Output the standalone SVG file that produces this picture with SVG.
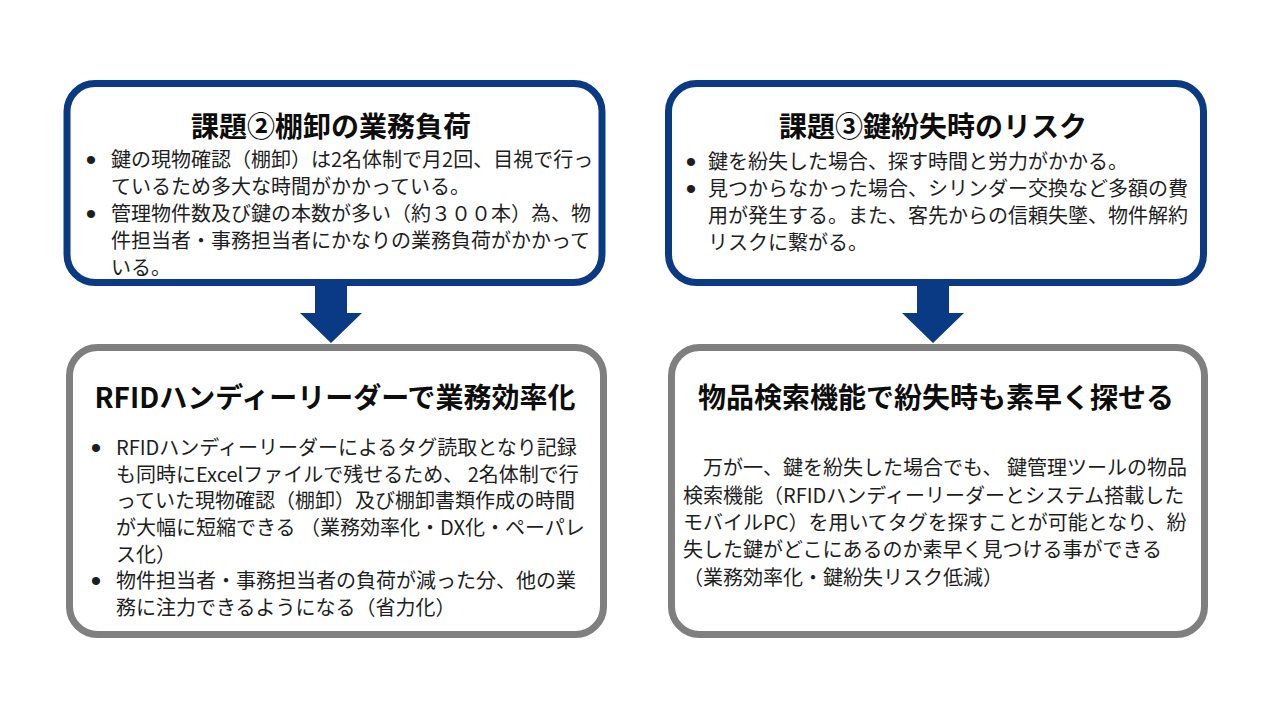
<svg xmlns="http://www.w3.org/2000/svg" width="1280" height="720" viewBox="0 0 1280 720">
<style>
.box{fill:#ffffff;stroke-width:7}
.navy{stroke:#0b3a84}
.grey{stroke:#7f7f7f}
.title{font-family:"Noto Sans CJK JP","Noto Sans",sans-serif;font-weight:700;font-size:28px;fill:#0d0d0d;text-anchor:middle}
.body{font-family:"Noto Sans CJK JP","Noto Sans",sans-serif;font-size:20px;fill:#1e1e1e}
.bullet{font-family:"Liberation Sans",Arial,sans-serif;font-size:30px;fill:#1e1e1e;text-anchor:middle}
.arrow{fill:#0b3a84}
</style>
<rect width="1280" height="720" fill="#ffffff"/>
<g id="connectors">
<polygon class="arrow" points="315,286 347,286 347,313 362,313 331,343 300,313 315,313"/>
<polygon class="arrow" points="917,286 949,286 949,313 964,313 933,343 902,313 917,313"/>
</g>
<g id="issue2">
<rect class="box navy" x="67" y="83.5" width="535" height="199" rx="28"/>
<text class="title" x="331" y="137">課題②棚卸の業務負荷</text>
<text class="bullet"><tspan x="91" y="170">•</tspan><tspan x="91" y="224">•</tspan></text>
<text class="body" xml:space="preserve"><tspan x="111" y="167">鍵の現物確認（棚卸）は2名体制で月2回、目視で行っ</tspan><tspan x="111" y="194">ているため多大な時間がかかっている。</tspan><tspan x="111" y="221">管理物件数及び鍵の本数が多い（約３００本）為、物</tspan><tspan x="111" y="248">件担当者・事務担当者にかなりの業務負荷がかかって</tspan><tspan x="111" y="275">いる。</tspan></text>
</g>
<g id="issue3">
<rect class="box navy" x="668.5" y="83.5" width="535" height="199" rx="28"/>
<text class="title" x="933" y="137">課題③鍵紛失時のリスク</text>
<text class="bullet"><tspan x="691" y="172">•</tspan><tspan x="691" y="199">•</tspan></text>
<text class="body" xml:space="preserve"><tspan x="708" y="169">鍵を紛失した場合、探す時間と労力がかかる。</tspan><tspan x="708" y="196">見つからなかった場合、シリンダー交換など多額の費</tspan><tspan x="708" y="223">用が発生する。また、客先からの信頼失墜、物件解約</tspan><tspan x="708" y="250">リスクに繋がる。</tspan></text>
</g>
<g id="solution-rfid">
<rect class="box grey" x="69.5" y="347.5" width="534" height="287" rx="28"/>
<text class="title" x="335" y="408">RFIDハンディーリーダーで業務効率化</text>
<text class="bullet"><tspan x="96" y="458">•</tspan><tspan x="96" y="591">•</tspan></text>
<text class="body" xml:space="preserve"><tspan x="116" y="455">RFIDハンディーリーダーによるタグ読取となり記録</tspan><tspan x="116" y="482">も同時にExcelファイルで残せるため、 2名体制で行</tspan><tspan x="116" y="508">っていた現物確認（棚卸）及び棚卸書類作成の時間</tspan><tspan x="116" y="535">が大幅に短縮できる （業務効率化・DX化・ペーパレ</tspan><tspan x="116" y="562">ス化）</tspan><tspan x="116" y="588">物件担当者・事務担当者の負荷が減った分、他の業</tspan><tspan x="116" y="615">務に注力できるようになる（省力化）</tspan></text>
</g>
<g id="solution-search">
<rect class="box grey" x="671.5" y="347.5" width="533" height="287" rx="28"/>
<text class="title" x="936" y="408">物品検索機能で紛失時も素早く探せる</text>
<text class="body" xml:space="preserve"><tspan x="683" y="475">　万が一、鍵を紛失した場合でも、 鍵管理ツールの物品</tspan><tspan x="683" y="503">検索機能（RFIDハンディーリーダーとシステム搭載した</tspan><tspan x="683" y="530">モバイルPC）を用いてタグを探すことが可能となり、紛</tspan><tspan x="683" y="557">失した鍵がどこにあるのか素早く見つける事ができる</tspan><tspan x="683" y="585">（業務効率化・鍵紛失リスク低減）</tspan></text>
</g>
</svg>
